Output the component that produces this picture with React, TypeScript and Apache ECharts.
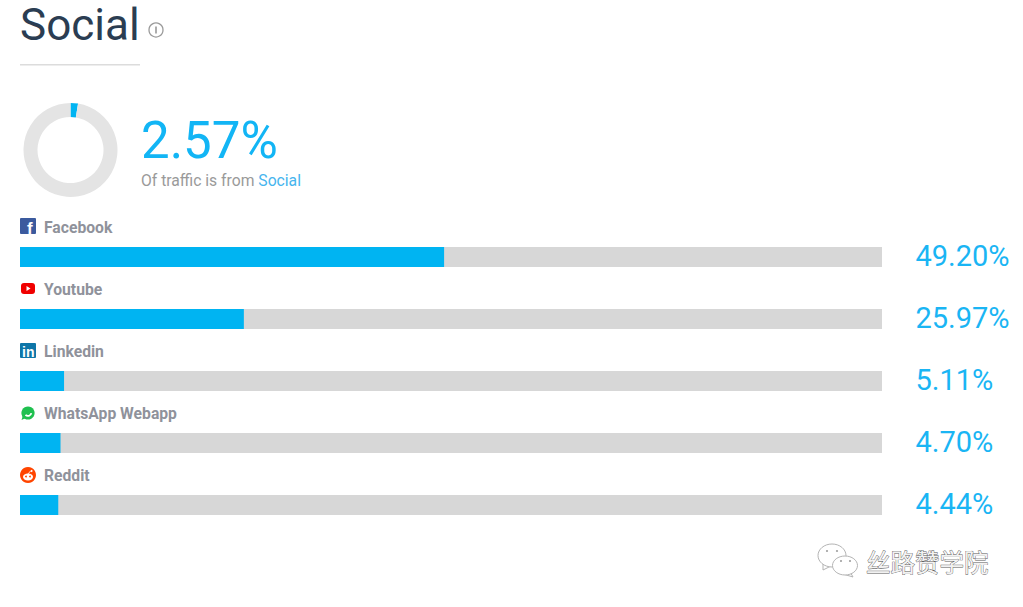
import React, { useEffect, useRef } from "react";
import * as echarts from "echarts";

const sources = ["Facebook", "Youtube", "Linkedin", "WhatsApp Webapp", "Reddit"];
const shares = [49.2, 25.97, 5.11, 4.7, 4.44];
const shareLabels = ["49.20%", "25.97%", "5.11%", "4.70%", "4.44%"];
const fullScale = [100, 100, 100, 100, 100];
const socialShare = 2.57;
const socialShareLabel = "2.57%";

const BLUE = "#00b4f2";
const FONT = "Roboto";

function txt(x: number, y: number, text: string, fontSize: number, fill: string, fontWeight: any = 400, extra: any = {}) {
  return { type: "text", x, y, silent: true, style: { x: 0, y: 0, text, fontSize, fill, fontWeight, fontFamily: FONT, verticalAlign: "middle", ...extra } };
}

function icons(): any[] {
  return [
    { type: "rect", shape: { x: 20, y: 218, width: 16, height: 16, r: 1 }, style: { fill: "#3b5a9e" } },
    { type: "text", x: 27, y: 220, style: { text: "f", fontSize: 17, fontWeight: 700, fill: "#fff", fontFamily: "Liberation Sans" } },
    { type: "rect", shape: { x: 21, y: 283, width: 14, height: 11, r: 3 }, style: { fill: "#f00000" } },
    { type: "polygon", shape: { points: [[26.5, 286], [26.5, 291], [30.5, 288.5]] }, style: { fill: "#fff" } },
    { type: "rect", shape: { x: 20, y: 343, width: 16, height: 15, r: 1 }, style: { fill: "#0e76a8" } },
    { type: "text", x: 22, y: 344.5, style: { text: "in", fontSize: 14, fontWeight: 700, fill: "#fff", fontFamily: "Liberation Sans" } },
    { type: "circle", shape: { cx: 28, cy: 413, r: 6.6 }, style: { fill: "#1fc04f" } },
    { type: "polygon", shape: { points: [[21.5, 420], [23, 415], [26, 418]] }, style: { fill: "#1fc04f" } },
    { type: "arc", shape: { cx: 28, cy: 412.5, r: 3.4, startAngle: 0.2, endAngle: 2.4 }, style: { stroke: "#fff", lineWidth: 1.8, fill: "none" } },
    { type: "circle", shape: { cx: 28, cy: 475, r: 8 }, style: { fill: "#ff4500" } },
    { type: "ellipse", shape: { cx: 28, cy: 477, rx: 5, ry: 3.4 }, style: { fill: "#fff" } },
    { type: "circle", shape: { cx: 26, cy: 476.5, r: 0.9 }, style: { fill: "#ff4500" } },
    { type: "circle", shape: { cx: 30, cy: 476.5, r: 0.9 }, style: { fill: "#ff4500" } },
    { type: "circle", shape: { cx: 31.5, cy: 471, r: 1 }, style: { fill: "#fff" } },
    { type: "line", shape: { x1: 28, y1: 474, x2: 30.5, y2: 471 }, style: { stroke: "#fff", lineWidth: 0.8 } },
  ];
}

function watermark(): any[] {
  const ink = { stroke: "#b4b4b4", lineWidth: 1, fill: "#fff" };
  const eye = { fill: "#a8a8a8" };
  return [
    { type: "polyline", shape: { points: [[823, 562], [823, 570], [831, 566]] }, style: { ...ink } },
    { type: "ellipse", shape: { cx: 832, cy: 555.5, rx: 14, ry: 11.5 }, style: { ...ink } },
    { type: "circle", shape: { cx: 827, cy: 551, r: 1.1 }, style: eye },
    { type: "circle", shape: { cx: 837, cy: 551, r: 1.1 }, style: eye },
    { type: "polyline", shape: { points: [[849, 570], [853, 577], [843, 574]] }, style: { ...ink } },
    { type: "ellipse", shape: { cx: 845, cy: 565.5, rx: 12.5, ry: 9.5 }, style: { ...ink } },
    { type: "circle", shape: { cx: 841, cy: 561, r: 1.1 }, style: eye },
    { type: "circle", shape: { cx: 850, cy: 561, r: 1.1 }, style: eye },
    {
      type: "text", x: 866, y: 561, silent: true,
      style: {
        text: "丝路赞学院", fontSize: 24.5, fill: "#f2f2f2", fontFamily: "Noto Sans CJK SC",
        verticalAlign: "middle", stroke: "#5a5a5a", lineWidth: 0.8,
      },
    },
  ];
}

export default function App() {
  const ref = useRef<HTMLDivElement>(null);
  useEffect(() => {
    document.body.style.margin = "0";
    const chart = echarts.init(ref.current!, undefined, { renderer: "svg" });
    chart.setOption({
      animation: false,
      backgroundColor: "#ffffff",
      grid: { left: 20, top: 226, width: 862, height: 310, containLabel: false },
      xAxis: { type: "value", min: 0, max: 100, show: false },
      yAxis: { type: "category", inverse: true, data: sources, show: false },
      series: [
        {
          type: "bar", data: fullScale, barWidth: 20, barGap: "-100%", z: 1, silent: true,
          itemStyle: { color: "#d7d7d7" },
          label: {
            show: true, position: "right", distance: 33.5, offset: [0, -1], fontFamily: FONT, fontSize: 29, fontWeight: 400, color: "#1ab5f4",
            formatter: (p: any) => shareLabels[p.dataIndex],
          },
        },
        {
          type: "bar", data: shares, barWidth: 20, z: 2, silent: true,
          itemStyle: { color: BLUE },
          label: {
            show: true, position: [24, -28], fontFamily: FONT, fontSize: 15.7, fontWeight: 700, color: "#8f929b", align: "left", verticalAlign: "top",
            formatter: (p: any) => sources[p.dataIndex],
          },
        },
        {
          type: "pie", center: [70.5, 150], radius: [33, 47], startAngle: 90, clockwise: true, silent: true,
          label: { show: false }, labelLine: { show: false },
          data: [
            { value: socialShare, name: "Social", itemStyle: { color: BLUE } },
            { value: 100 - socialShare, name: "Other", itemStyle: { color: "#e4e4e4" } },
          ],
        },
      ],
      graphic: [
        txt(20, 25, "Social", 44, "#2b3d52"),
        { type: "rect", shape: { x: 20, y: 64, width: 120, height: 1.5 }, style: { fill: "#dcdcdc" } },
        { type: "circle", shape: { cx: 156, cy: 30, r: 7 }, style: { fill: "#fff", stroke: "#9a9a9a", lineWidth: 1.3 } },
        { type: "line", shape: { x1: 156, y1: 26.5, x2: 156, y2: 33.5 }, style: { stroke: "#8a8a8a", lineWidth: 1.4 } },
        txt(141, 140, socialShareLabel, 51, "#12b5f5", 400),
        {
          type: "text", x: 141, y: 180, silent: true,
          style: {
            text: "{a|Of traffic is from }{b|Social}", verticalAlign: "middle", fontFamily: FONT,
            rich: {
              a: { fontSize: 15.7, fontFamily: FONT, fill: "#9a9a9a", color: "#9a9a9a" },
              b: { fontSize: 15.7, fontFamily: FONT, fill: "#46b5ee", color: "#46b5ee" },
            },
          },
        },
        ...icons(),
        ...watermark(),
      ],
    });
    return () => chart.dispose();
  }, []);
  return <div ref={ref} style={{ width: 1023, height: 607, position: "absolute", left: 0, top: 0 }} />;
}
